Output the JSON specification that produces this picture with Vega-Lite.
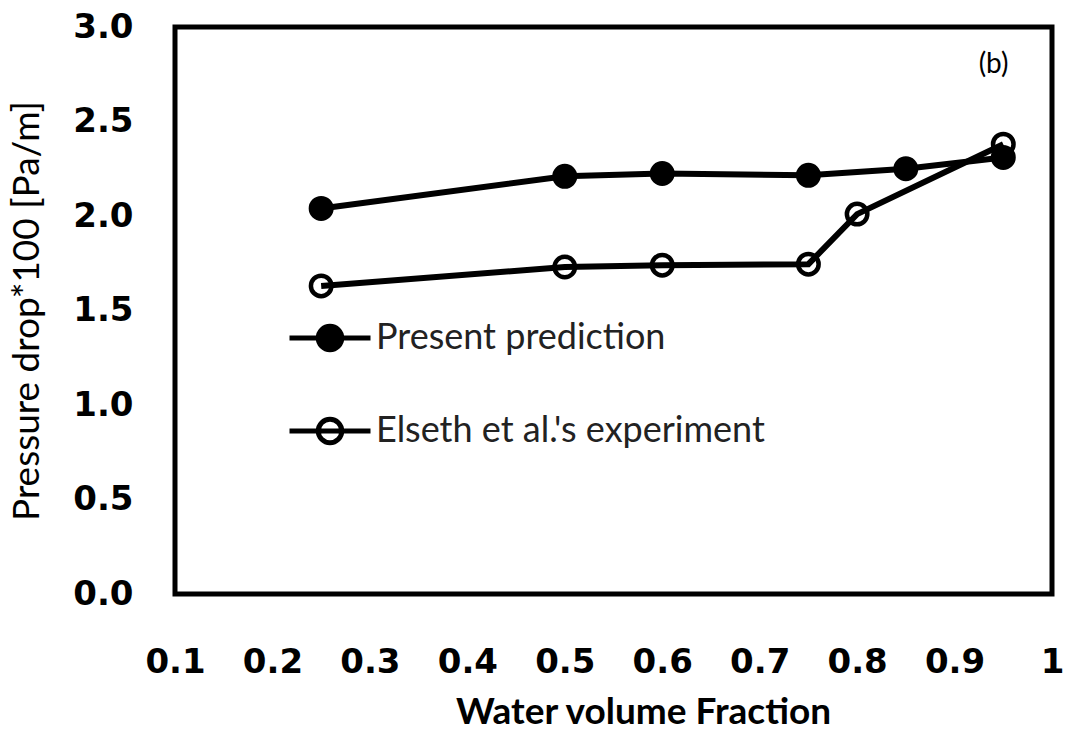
{
  "$schema": "https://vega.github.io/schema/vega-lite/v6.json",
  "autosize": {"type": "none"},
  "width": 877,
  "height": 567,
  "padding": {"left": 175, "top": 27, "right": 19, "bottom": 138},
  "background": "white",
  "config": {
    "view": {"stroke": "black", "strokeWidth": 5},
    "font": "Lato",
    "axis": {"grid": false, "ticks": false, "domain": false, "labelColor": "black", "titleColor": "black", "labelFlush": false}
  },
  "data": {
    "values": [
      {"series": "Present prediction", "x": 0.25, "y": 2.04},
      {"series": "Present prediction", "x": 0.5, "y": 2.21},
      {"series": "Present prediction", "x": 0.6, "y": 2.225},
      {"series": "Present prediction", "x": 0.75, "y": 2.215},
      {"series": "Present prediction", "x": 0.85, "y": 2.25},
      {"series": "Present prediction", "x": 0.95, "y": 2.31},
      {"series": "Elseth et al.'s experiment", "x": 0.25, "y": 1.63},
      {"series": "Elseth et al.'s experiment", "x": 0.5, "y": 1.73},
      {"series": "Elseth et al.'s experiment", "x": 0.6, "y": 1.74},
      {"series": "Elseth et al.'s experiment", "x": 0.75, "y": 1.745},
      {"series": "Elseth et al.'s experiment", "x": 0.8, "y": 2.01},
      {"series": "Elseth et al.'s experiment", "x": 0.95, "y": 2.38}
    ]
  },
  "encoding": {
    "x": {
      "field": "x", "type": "quantitative",
      "scale": {"domain": [0.1, 1], "nice": false, "zero": false},
      "axis": {
        "values": [0.1, 0.2, 0.3, 0.4, 0.5, 0.6, 0.7, 0.8, 0.9, 1],
        "format": ".1~f",
        "labelFont": "DejaVu Sans", "labelFontSize": 34, "labelFontWeight": "bold", "labelPadding": 51,
        "title": "Water volume Fraction", "titleFontSize": 37, "titleFontWeight": "bold", "titlePadding": 15, "titleX": 468
      }
    },
    "y": {
      "field": "y", "type": "quantitative",
      "scale": {"domain": [0, 3], "nice": false},
      "axis": {
        "values": [0, 0.5, 1, 1.5, 2, 2.5, 3],
        "format": ".1f",
        "labelFont": "DejaVu Sans", "labelFontSize": 34, "labelFontWeight": "bold", "labelPadding": 42,
        "title": "Pressure drop*100 [Pa/m]", "titleFontSize": 37, "titleFontWeight": "normal", "titlePadding": 26
      }
    }
  },
  "layer": [
    {
      "mark": {"type": "line", "stroke": "black", "strokeWidth": 6},
      "encoding": {"detail": {"field": "series"}}
    },
    {
      "mark": {"type": "point", "shape": "circle", "filled": true, "stroke": "black", "strokeWidth": 4.5, "size": 420, "opacity": 1},
      "encoding": {
        "fill": {
          "field": "series", "type": "nominal",
          "scale": {"domain": ["Present prediction", "Elseth et al.'s experiment"], "range": ["black", "transparent"]},
          "legend": {
            "title": null,
            "orient": "none",
            "legendX": 112,
            "legendY": 268,
            "padding": 0,
            "symbolType": "M-1,0H1M-0.29,0A0.29,0.29 0 1,1 0.29,0A0.29,0.29 0 1,1 -0.29,0Z",
            "symbolSize": 6561,
            "symbolStrokeColor": "black",
            "symbolStrokeWidth": 5,
            "symbolOpacity": 1,
            "labelFontSize": 36,
            "labelFont": "Lato",
            "labelColor": "#222",
            "labelOffset": 3,
            "rowPadding": 28,
            "labelLimit": 600
          }
        }
      }
    },
    {
      "transform": [{"filter": "datum.series == 'Present prediction' && datum.x == 0.25"}],
      "mark": {"type": "text", "text": "(b)", "fontSize": 28, "fontWeight": "normal", "font": "Lato", "color": "black", "align": "center", "baseline": "middle"},
      "encoding": {
        "x": {"datum": 0.94},
        "y": {"datum": 2.8}
      }
    }
  ]
}
